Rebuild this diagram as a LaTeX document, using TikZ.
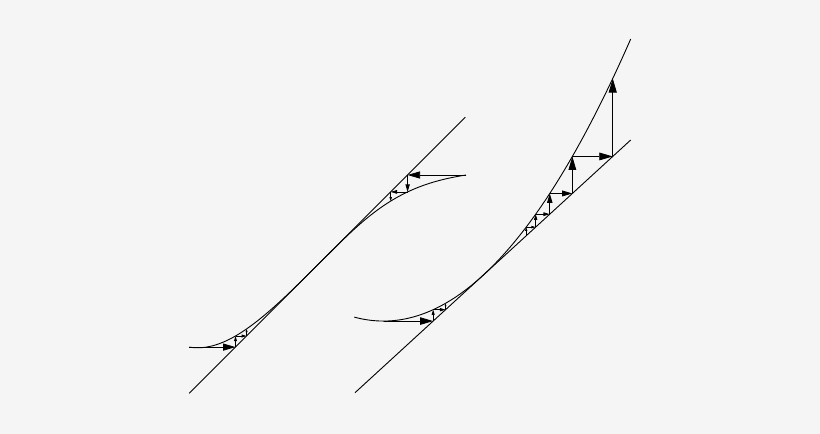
\documentclass[tikz,border=0pt]{standalone}
\usetikzlibrary{arrows.meta}
\definecolor{bg}{RGB}{245,245,245}
\begin{document}
\begin{tikzpicture}[x=1pt,y=-1pt,
  guide/.style={line width=0.9pt,black},
  graphcurve/.style={line width=0.9pt,black},
  cob/.style={line width=0.8pt,black,-{Triangle[length=#1pt,width'=0pt 0.57]}}]
\fill[bg] (0,0) rectangle (820,434);
\useasboundingbox (0,0) rectangle (820,434);
% ---- left panel ----
\coordinate (A1) at (189.3,393.3);
\coordinate (A2) at (465.3,117.3);
\draw[guide] (A1) -- (A2);
\draw[graphcurve] plot[domain=-138.2:0,samples=70]
  ({327.5+\x},{255.1-(\x)-46*(abs(\x)/138)*(abs(\x)/138)*(abs(\x)/138)*sqrt(abs(\x)/138)})
  -- plot[domain=0:138.5,samples=70] ({327.5+\x},{255.1-87*tanh(\x/87)});
% upper cobweb
\coordinate (p0) at (466,175.0);
\coordinate (p1) at (407.6,175.0);
\coordinate (p2) at (407.6,191.9);
\coordinate (p3) at (390.7,191.9);
\coordinate (p4) at (390.7,201.1);
\draw[cob=12.5] (p0) -- (p1);
\draw[cob=7.5] (p1) -- (p2);
\draw[cob=6.5] (p2) -- (p3);
\draw[cob=4] (p3) -- (p4);
% lower cobweb
\coordinate (q0) at (189.3,347.1);
\coordinate (q1) at (235.5,347.1);
\coordinate (q2) at (235.5,336.0);
\coordinate (q3) at (246.6,336.0);
\coordinate (q4) at (246.6,328.9);
\draw[cob=12.5] (q0) -- (q1);
\draw[cob=5] (q1) -- (q2);
\draw[cob=5] (q2) -- (q3);
\draw[cob=3.2] (q3) -- (q4);
% ---- right panel ----
\coordinate (B1) at (355,392.7);
\coordinate (B2) at (630.7,140.0);
\draw[guide] (B1) -- (B2);
\draw[graphcurve] plot[domain=-128.5:147.9,samples=140]
  ({482.8+\x},{392.7-0.9166*(\x+127.8)-(0.06794*(\x))*(0.06794*(\x))});
% lower cobweb
\coordinate (r0) at (383.5,321.06);
\coordinate (r1) at (433.16,321.06);
\coordinate (r2) at (433.16,309.69);
\coordinate (r3) at (445.56,309.69);
\coordinate (r4) at (445.56,303.29);
\draw[cob=13] (r0) -- (r1);
\draw[cob=5.1] (r1) -- (r2);
\draw[cob=5.6] (r2) -- (r3);
\draw[cob=2.9] (r3) -- (r4);
% upper cobweb
\coordinate (s0) at (526.2,235.78);
\coordinate (s1) at (526.2,227.09);
\coordinate (s2) at (535.69,227.09);
\coordinate (s3) at (535.69,214.17);
\coordinate (s4) at (549.77,214.17);
\coordinate (s5) at (549.77,193.47);
\coordinate (s6) at (572.36,193.47);
\coordinate (s7) at (572.36,156.45);
\coordinate (s8) at (612.75,156.45);
\coordinate (s9) at (612.75,78.5);
\draw[cob=3.9] (s0) -- (s1);
\draw[cob=4.3] (s1) -- (s2);
\draw[cob=5.8] (s2) -- (s3);
\draw[cob=6.3] (s3) -- (s4);
\draw[cob=9.3] (s4) -- (s5);
\draw[cob=10.2] (s5) -- (s6);
\draw[cob=13.5] (s6) -- (s7);
\draw[cob=13.5] (s7) -- (s8);
\draw[cob=14] (s8) -- (s9);
\end{tikzpicture}
\end{document}
